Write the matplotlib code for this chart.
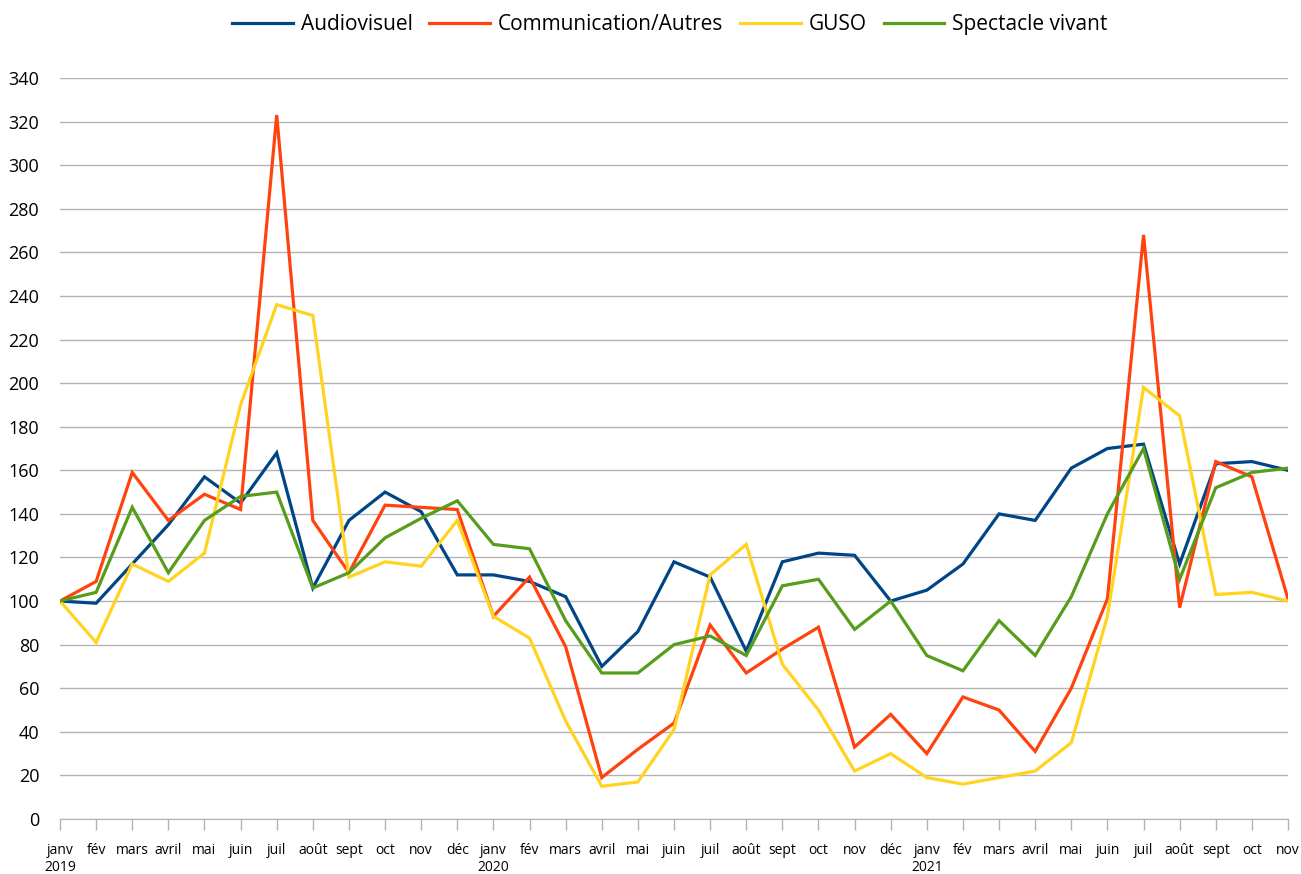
import numpy as np
import matplotlib
matplotlib.use("Agg")
import matplotlib.pyplot as plt

plt.rcParams['font.family'] = ['Open Sans', 'DejaVu Sans']

mois = ["janv", "fév", "mars", "avril", "mai", "juin", "juil", "août",
        "sept", "oct", "nov", "déc"]
annees = ["2019", "2020", "2021"]

audiovisuel = [100, 99, 117, 135, 157, 145, 168, 106, 137, 150, 141, 112,
               112, 109, 102, 70, 86, 118, 111, 77, 118, 122, 121, 100,
               105, 117, 140, 137, 161, 170, 172, 117, 163, 164, 160]
communication = [100, 109, 159, 137, 149, 142, 323, 137, 113, 144, 143, 142,
                 93, 111, 79, 19, 32, 44, 89, 67, 78, 88, 33, 48,
                 30, 56, 50, 31, 60, 101, 268, 97, 164, 157, 101]
guso = [100, 81, 117, 109, 122, 190, 236, 231, 111, 118, 116, 137,
        93, 83, 45, 15, 17, 41, 112, 126, 71, 50, 22, 30,
        19, 16, 19, 22, 35, 93, 198, 185, 103, 104, 100]
spectacle = [100, 104, 143, 113, 137, 148, 150, 106, 113, 129, 138, 146,
             126, 124, 91, 67, 67, 80, 84, 75, 107, 110, 87, 100,
             75, 68, 91, 75, 102, 140, 170, 110, 152, 159, 161]

series = [("Audiovisuel", audiovisuel, "#004586"),
          ("Communication/Autres", communication, "#ff420e"),
          ("GUSO", guso, "#ffd320"),
          ("Spectacle vivant", spectacle, "#579d1c")]

n = len(audiovisuel)
x = np.arange(n)
labels = []
for i in range(n):
    m = mois[i % 12]
    if i % 12 == 0:
        m = m + "\n" + annees[i // 12]
    labels.append(m)

fig = plt.figure(figsize=(13.01, 8.74), dpi=100)
ax = fig.add_axes([60/1301, 1-819/874, 1228/1301, (819-78)/874])

for nom, vals, col in series:
    ax.plot(x, vals, color=col, lw=2.3, label=nom, solid_joinstyle='miter')

ax.set_xlim(0, n-1)
ax.set_ylim(0, 340)
ax.set_yticks(np.arange(0, 341, 20))
ax.set_xticks(x)
ax.set_xticklabels(labels, fontsize=10, linespacing=1.2)
ax.tick_params(axis='y', length=0, labelsize=13, pad=15)
ax.tick_params(axis='x', length=8, color='#b3b3b3', width=1, pad=9)
ax.grid(axis='y', color='#b3b3b3', lw=1)
ax.set_axisbelow(True)
for s in ['top', 'right', 'left']:
    ax.spines[s].set_visible(False)
ax.spines['bottom'].set_color('#b3b3b3')

fig.legend(loc='upper center', bbox_to_anchor=(0.515, 1.005), ncol=4,
           frameon=False, fontsize=15, handlelength=2.9, columnspacing=0.8,
           handletextpad=0.4)

fig.savefig("out.png", dpi=100)
